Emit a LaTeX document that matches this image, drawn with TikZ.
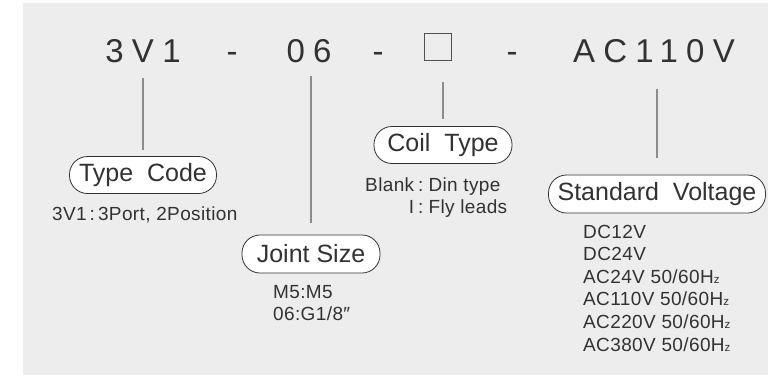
\documentclass[tikz,border=0pt]{standalone}
\usepackage{fontspec}
\setmainfont{Liberation Sans}
\usepackage{tikz}
\definecolor{bg}{RGB}{237,237,237}
\definecolor{ink}{RGB}{50,50,50}
\definecolor{rule}{RGB}{140,140,140}
\newcommand{\hz}{H{\fontsize{11.5}{11.5}\selectfont z}}
\tikzset{
  code/.style={anchor=base,inner sep=0pt,text=ink,
    font=\fontsize{33}{33}\selectfont\addfontfeature{LetterSpace=25}},
  tag/.style={draw=ink,fill=white,rounded corners=18pt,minimum height=37pt,
    inner sep=0pt,text=ink,line width=0.8pt,font=\fontsize{25}{25}\selectfont},
  note/.style={anchor=base west,inner sep=0pt,text=ink,
    font=\fontsize{19}{22}\selectfont\addfontfeature{LetterSpace=2}},
  lead/.style={draw=rule,line width=1.2pt},
}

\begin{document}
\begin{tikzpicture}[x=1pt,y=-1pt]
\useasboundingbox (0,0) rectangle (768,375);
\fill[bg] (23,3) rectangle (768,375);
% model code
\node[code] (typ) at (143,62) {3V1};
\node[code] (dash1) at (232,62) {-};
\node[code] (size) at (309,62) {06};
\node[code] (dash2) at (378,62) {-};
\node[draw=ink!85,line width=0.9pt,minimum size=27pt,inner sep=0pt] (coil) at (438,47) {};
\node[code] (dash3) at (512,62) {-};
\node[code] (volt) at (654,62) {AC110V};
% labels
\node[tag,minimum width=147pt] (typtag) at (143,175) {Type\ \ Code};
\node[tag,minimum width=138pt,minimum height=38pt] (sizetag) at (311,254) {Joint Size};
\node[tag,minimum width=138pt] (coiltag) at (443,145) {Coil\ \ Type};
\node[tag,minimum width=217pt,minimum height=38pt] (volttag) at (657,194) {Standard\ \ Voltage};
% leaders
\draw[lead,shorten <=15pt,shorten >=6pt] (typtag.north |- typ.south) -- (typtag.north);
\draw[lead,shorten <=13pt,shorten >=12pt] (sizetag.north |- size.south) -- (sizetag.north);
\draw[lead,shorten <=21pt,shorten >=7pt] (coiltag.north |- coil.south) -- (coiltag.north);
\draw[lead,shorten <=26pt,shorten >=17pt] (volttag.north |- volt.south) -- (volttag.north);
% notes
\node[note] (typnote) at (52,220) {3V1\hspace{3pt}:\hspace{3pt}3Port, 2Position};
\node[note] (sizenote1) at (273,298) {M5:M5};
\node[note] (sizenote2) at (273,320) {06:G1/8″};
\node[note] (coilnote) at (365,191) {\begin{tabular}[t]{@{}r@{\hspace{4pt}:\hspace{5pt}}l@{}}Blank&Din type\\I&Fly leads\end{tabular}};
\foreach \v [count=\i] in {DC12V,DC24V,AC24V 50/60\hz,AC110V 50/60\hz,AC220V 50/60\hz,AC380V 50/60\hz}
  \node[note] (voltnote\i) at (583,215.4+22.6*\i) {\v};
\end{tikzpicture}
\end{document}
